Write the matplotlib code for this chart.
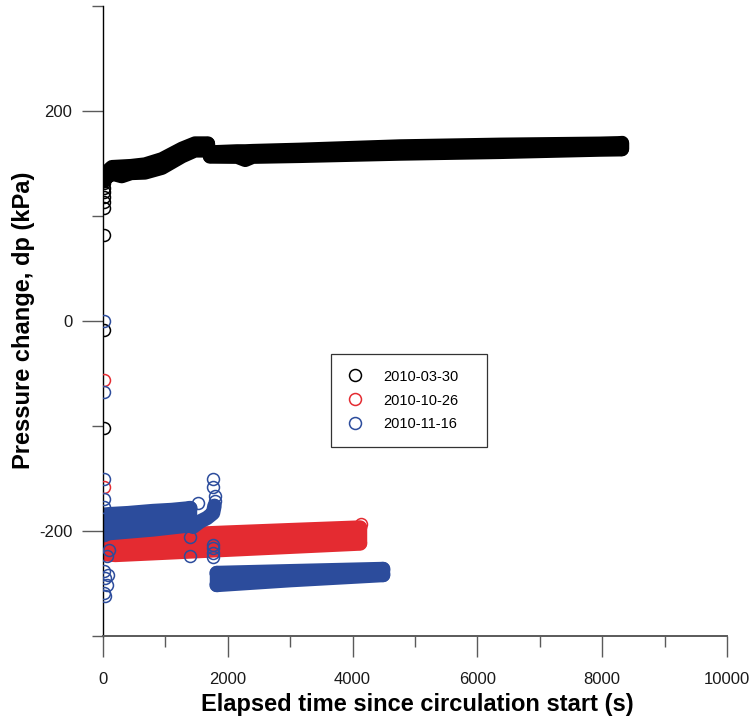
import matplotlib
matplotlib.use("Agg")
import matplotlib.pyplot as plt
from matplotlib.lines import Line2D

plt.rcParams['font.family'] = ['Liberation Sans', 'DejaVu Sans']
plt.rcParams['axes.unicode_minus'] = False

# ---- series names and colours ----
labels = ["2010-03-30", "2010-10-26", "2010-11-16"]
colors = ["#000000", "#E42B31", "#2C4C9C"]

# ---- dense records: time (s) with lower / upper pressure envelope (kPa) ----
# 2010-03-30, first stage (rise to the plateau)
t_a1 = [10, 60, 144, 300, 450, 673, 945, 1266, 1474, 1680]
lo_a1 = [133, 137, 140.5, 138, 141, 141.5, 146, 157, 162.5, 162.5]
hi_a1 = [138, 142, 146.5, 147, 147.5, 149, 154, 164, 169, 169]
# 2010-03-30, second stage
t_a2 = [1715, 2150, 2280, 2400, 3157, 4760, 6362, 7965, 8310]
lo_a2 = [156.7, 156.5, 153.5, 156.5, 157.3, 159.5, 161.1, 163.3, 163.6]
hi_a2 = [160.5, 161.5, 161.5, 161.8, 163, 166.2, 167.8, 168.8, 169.3]

# 2010-10-26
t_b = [10, 200, 1000, 2000, 3000, 4120]
lo_b = [-222, -222.8, -220.6, -217.8, -215.0, -211.9]
hi_b = [-196, -205.7, -203.9, -201.5, -199.2, -196.7]

# 2010-11-16, first stage
t_c1 = [10, 100, 400, 800, 1100, 1400]
lo_c1 = [-204, -202, -200.5, -198.5, -196.5, -194.5]
hi_c1 = [-184.6, -184, -183, -181, -180, -178.3]
# 2010-11-16, transition
t_c2 = [1442, 1554, 1667, 1763, 1787]
p_c2 = [-196, -191, -187.6, -183, -176]
# 2010-11-16, second stage
t_c3 = [1820, 3000, 4490]
lo_c3 = [-251.4, -246.8, -241.9]
hi_c3 = [-240, -238.3, -236.2]

# ---- isolated readings (t, dp) ----
t_a_pts = [20, 20, 20, 20, 20, 20, 20, 20, 20]
p_a_pts = [82, 107.3, 113.6, 118, 123, 127, 131, -8.6, -102]
t_b_pts = [10, 10, 4130]
p_b_pts = [-56, -158, -193.8]
t_c_pts = [16, 16, 16, 16, 16, 100, 60, 20, 80, 40, 60, 30, 16,
           1394, 1394, 1522,
           1763, 1763, 1790, 1790, 1763, 1763, 1763, 1763]
p_c_pts = [0, -68, -150, -169.5, -177, -218, -224, -237.8, -242, -245, -251, -261.6, -259,
           -205.7, -224, -173,
           -150.7, -158, -167, -171, -213, -216, -221, -225]

fig = plt.figure(figsize=(7.55, 7.22), dpi=100)
ax = fig.add_axes([103 / 755, 1 - 636 / 722, 624 / 755, 630 / 722])

band_w = 10.4  # width of the dense-record trace (pt)
mk = 8.6       # marker size (pt)
mew = 1.1


def band(t, lo, hi, color):
    ax.fill_between(t, lo, hi, color=color, lw=0, zorder=2)
    kw = dict(color=color, lw=band_w, solid_capstyle='round',
              solid_joinstyle='round', zorder=2)
    ax.plot(t, lo, **kw)
    ax.plot(t, hi, **kw)
    ax.plot([t[0], t[0]], [lo[0], hi[0]], **kw)
    ax.plot([t[-1], t[-1]], [lo[-1], hi[-1]], **kw)


def points(t, p, color):
    ax.plot(t, p, 'o', ms=mk, mfc='none', mec=color, mew=mew, zorder=3)


# 2010-03-30
band(t_a1, lo_a1, hi_a1, colors[0])
band(t_a2, lo_a2, hi_a2, colors[0])
points(t_a_pts, p_a_pts, colors[0])
# 2010-10-26
band(t_b, lo_b, hi_b, colors[1])
points(t_b_pts, p_b_pts, colors[1])
# 2010-11-16
band(t_c1, lo_c1, hi_c1, colors[2])
ax.plot(t_c2, p_c2, color=colors[2], lw=band_w, solid_capstyle='round',
        solid_joinstyle='round', zorder=2)
band(t_c3, lo_c3, hi_c3, colors[2])
points(t_c_pts, p_c_pts, colors[2])

ax.set_xlim(0, 10000)
ax.set_ylim(-300, 300)
ax.set_xticks(range(0, 10001, 2000))
ax.set_xticks(range(1000, 10000, 2000), minor=True)
ax.set_yticks([-200, 0, 200])
ax.set_yticks([-300, -100, 100, 300], minor=True)

for s in ('top', 'right'):
    ax.spines[s].set_visible(False)
ax.spines['left'].set_color('#000000')
ax.spines['left'].set_linewidth(1.0)
ax.spines['bottom'].set_color('#5a5a5a')
ax.spines['bottom'].set_linewidth(1.4)

ax.tick_params(which='major', direction='out', length=15, width=1.0,
               color='#5a5a5a', labelsize=12, labelcolor='#1a1a1a')
ax.tick_params(axis='y', which='major', pad=7)
ax.tick_params(axis='x', which='major', pad=11)
ax.tick_params(which='minor', direction='out', length=8, width=1.0,
               color='#5a5a5a')

fig.text(24 / 755, 1 - 320 / 722, "Pressure change, dp (kPa)", rotation=90,
         ha='center', va='center', fontsize=17, fontweight='bold')
fig.text(417 / 755, 1 - 705 / 722, "Elapsed time since circulation start (s)",
         ha='center', va='center', fontsize=17, fontweight='bold')

handles = [Line2D([], [], ls='none', marker='o', ms=mk, mfc='none', mec=c, mew=mew)
           for c in colors]
leg = ax.legend(handles, labels, loc='upper left',
                bbox_to_anchor=(331 / 755, 1 - 355 / 722, 156 / 755, 0.001),
                bbox_transform=fig.transFigure, mode='expand',
                frameon=True, fancybox=False,
                fontsize=10.5, borderpad=1.05, labelspacing=0.68,
                handletextpad=1.3, handlelength=1.2, borderaxespad=0)
leg.get_frame().set_edgecolor('#000000')
leg.get_frame().set_linewidth(0.9)

fig.savefig("out.png", dpi=100)
